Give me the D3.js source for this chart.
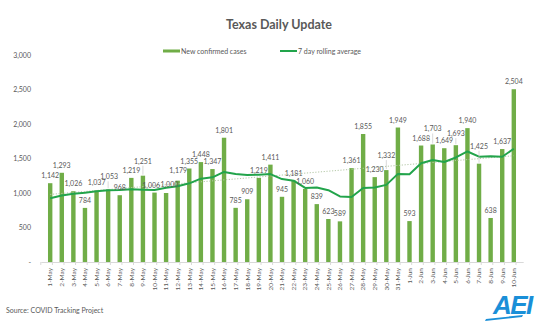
<!DOCTYPE html>
<html>
<head>
<meta charset="utf-8">
<script src="https://cdn.jsdelivr.net/npm/d3@7"></script>
<style>
  html, body { margin: 0; padding: 0; background: #ffffff; }
  svg { display: block; }
  text { font-family: "Lato", "Liberation Sans", sans-serif; }
</style>
</head>
<body>
<svg id="chart" width="540" height="332"></svg>
<script>
const days = ["1-May","2-May","3-May","4-May","5-May","6-May","7-May","8-May","9-May","10-May",
  "11-May","12-May","13-May","14-May","15-May","16-May","17-May","18-May","19-May","20-May",
  "21-May","22-May","23-May","24-May","25-May","26-May","27-May","28-May","29-May","30-May",
  "31-May","1-Jun","2-Jun","3-Jun","4-Jun","5-Jun","6-Jun","7-Jun","8-Jun","9-Jun","10-Jun"];
const newCases = [1142,1293,1026,784,1037,1053,968,1219,1251,1006,
  1000,1179,1355,1448,1347,1801,785,909,1219,1411,
  945,1181,1060,839,623,589,1361,1855,1230,1332,
  1949,593,1688,1703,1649,1693,1940,1425,638,1637,2504];
const rollingAvg = [925,965,990,1005,1025,1040,1043,1054,1048,1045,
  1076,1097,1140,1208,1227,1305,1274,1261,1266,1274,
  1202,1179,1073,1081,1040,950,943,1073,1080,1118,
  1277,1273,1430,1479,1449,1515,1602,1527,1534,1526,1641];
const trendEnds = [980, 1540];
const yTicks = [0,500,1000,1500,2000,2500,3000];

const svg = d3.select("#chart");
const barColor = "#70AD47", lineColor = "#22a44b", textColor = "#595959";

const x = d3.scaleBand().domain(days).range([40.8, 523.2]).padding(0.62);
const y = d3.scaleLinear().domain([0, 3000]).range([262, 55]);
const cx = d => x(d) + x.bandwidth() / 2;

// layout nudges for data labels that were moved in the original (pixels): [dx, extra lift, leader line]
const labelNudge = {
  "6-May": [1, 5, true], "9-May": [0, 7, true], "10-May": [-3.3, 0, false], "11-May": [3.3, 1, false],
  "12-May": [0.5, 3, false], "30-May": [0, 7, true], "3-Jun": [0, 8, true], "5-Jun": [0, 4, true],
  "7-Jun": [0, 10, true]
};

// Title
svg.append("text").attr("x", 279).attr("y", 29).attr("text-anchor", "middle")
  .attr("font-size", 12.5).attr("font-weight", "bold").attr("fill", textColor)
  .text("Texas Daily Update");

// Legend
const lg = svg.append("g").attr("font-size", 7).attr("fill", textColor);
lg.append("rect").attr("x", 163).attr("y", 49.5).attr("width", 17).attr("height", 3).attr("fill", barColor);
lg.append("text").attr("x", 181).attr("y", 53.5).text("New confirmed cases");
lg.append("line").attr("x1", 280).attr("x2", 297).attr("y1", 51).attr("y2", 51)
  .attr("stroke", lineColor).attr("stroke-width", 2);
lg.append("text").attr("x", 298).attr("y", 53.5).text("7 day rolling average");

// Y axis
const yAxis = d3.axisLeft(y).tickValues(yTicks).tickSize(0)
  .tickFormat(v => v === 0 ? "-" : d3.format(",")(v));
const yg = svg.append("g").attr("transform", "translate(34,0)").call(yAxis);
yg.select(".domain").remove();
yg.selectAll("text").attr("font-size", 7).attr("fill", textColor)
  .style("font-family", "Lato, 'Liberation Sans', sans-serif");

// Bars
svg.append("g").selectAll("rect").data(days).join("rect")
  .attr("x", d => x(d)).attr("width", x.bandwidth())
  .attr("y", (d, i) => y(newCases[i])).attr("height", (d, i) => y(0) - y(newCases[i]))
  .attr("fill", barColor);

// X axis
const xAxis = d3.axisBottom(x).tickSize(0).tickSizeOuter(0);
const xg = svg.append("g").attr("transform", "translate(0,262)").call(xAxis);
xg.select(".domain").attr("stroke", "#d9d9d9");
xg.selectAll(".tick text").attr("font-size", 6.5).attr("fill", textColor)
  .style("font-family", "Lato, 'Liberation Sans', sans-serif")
  .attr("text-anchor", "end").attr("transform", "rotate(-90)")
  .attr("x", -6).attr("y", 0).attr("dy", "0.35em");
xg.append("g").selectAll("line").data(days.concat(["end"])).join("line")
  .attr("x1", (d, i) => x.range()[0] + i * x.step()).attr("x2", (d, i) => x.range()[0] + i * x.step())
  .attr("y1", 0).attr("y2", 3).attr("stroke", "#d9d9d9");

// Trendline (dotted)
svg.append("line")
  .attr("x1", cx(days[0])).attr("x2", cx(days[days.length - 1]))
  .attr("y1", y(trendEnds[0])).attr("y2", y(trendEnds[1]))
  .attr("stroke", "#b5c9a8").attr("stroke-width", 1).attr("stroke-dasharray", "1.2,1.6");

// Rolling average line
const line = d3.line().x((d, i) => cx(days[i])).y(d => y(d));
svg.append("path").datum(rollingAvg).attr("d", line)
  .attr("fill", "none").attr("stroke", lineColor).attr("stroke-width", 2).attr("stroke-linejoin", "round");

// Leader lines for moved labels
svg.append("g").selectAll("line").data(days.filter(d => labelNudge[d] && labelNudge[d][2])).join("line")
  .attr("x1", d => cx(d)).attr("x2", d => cx(d))
  .attr("y1", d => y(newCases[days.indexOf(d)]) - labelNudge[d][1] - 3)
  .attr("y2", d => y(newCases[days.indexOf(d)]) - 1)
  .attr("stroke", "#bfbfbf").attr("stroke-width", 0.6);

// Data labels
svg.append("g").selectAll("text").data(days).join("text")
  .attr("x", d => cx(d) + (labelNudge[d] ? labelNudge[d][0] : 0))
  .attr("y", (d, i) => y(newCases[i]) - 5 - (labelNudge[d] ? labelNudge[d][1] : 0))
  .attr("text-anchor", "middle").attr("font-size", 7).attr("fill", textColor)
  .text((d, i) => d3.format(",")(newCases[i]));

// Source
svg.append("text").attr("x", 6).attr("y", 313).attr("font-size", 7).attr("fill", textColor)
  .text("Source: COVID Tracking Project");

// AEI logo
const logo = svg.append("g").attr("fill", "#1a8fd8");
logo.append("text").attr("x", 493).attr("y", 314).attr("font-size", 26).attr("font-weight", "bold")
  .attr("font-style", "italic").style("font-family", "'Liberation Sans', Arial, sans-serif")
  .attr("letter-spacing", -1.5).text("AEI");
logo.append("path").attr("d", "M486,319 L523,315 L522,317 L485,321 Z");
</script>
</body>
</html>
